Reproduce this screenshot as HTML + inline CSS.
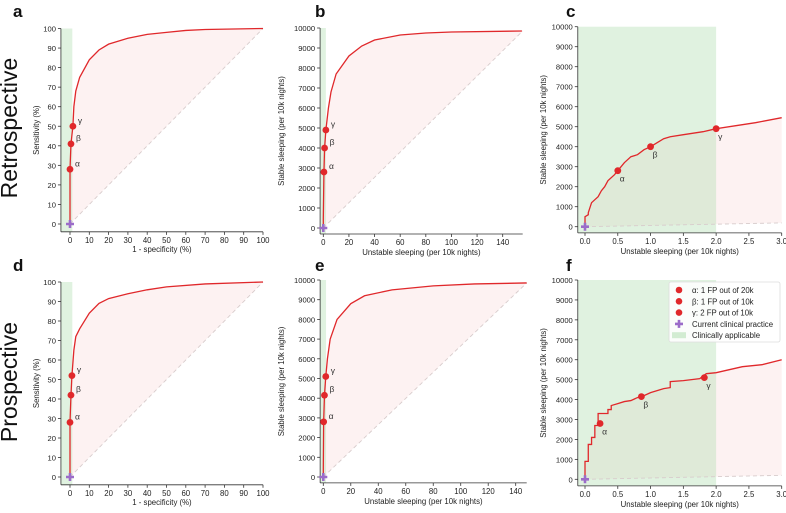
<!DOCTYPE html>
<html><head><meta charset="utf-8"><style>
html,body{margin:0;padding:0;background:#fff;}
svg{display:block;font-family:"Liberation Sans",sans-serif;}
</style></head><body>
<svg id="fig" width="786" height="513" viewBox="0 0 786 513" xmlns="http://www.w3.org/2000/svg">
<text x="11" y="128" font-size="23" transform="rotate(-90 11 128)" text-anchor="middle" dominant-baseline="middle" fill="#111">Retrospective</text>
<text x="11" y="382" font-size="23" transform="rotate(-90 11 382)" text-anchor="middle" dominant-baseline="middle" fill="#111">Prospective</text>
</svg>
<script>
// ---- data ----
const rocRetroX = [0,0,0.5,1.5,2,3,5,10,15,20,30,40,50,60,70,100];
const rocRetroY = [0,28,41,50,60,68,75,84,89,92,95,97,98,99,99.5,100];
const rocProX = [0,0,0.5,1,2,3,5,10,15,20,30,40,50,70,100];
const rocProY = [0,28,42,52,65,72,76,84,89,91.5,94,96,97.5,99,100];
const sleepRetroX = [0,0,0.5,1,2,4,6,10,20,30,40,60,80,100,155];
const sleepRetroY = [0,500,2800,4000,4900,6000,6800,7700,8600,9100,9400,9650,9750,9800,9850];
const sleepProX = [0,0,0.25,0.85,1.8,3,5,10,20,30,50,80,110,148];
const sleepProY = [0,500,2800,4150,5100,6000,7000,8000,8800,9200,9500,9700,9800,9850];
const zoomRetroX = [0,0,0.05,0.05,0.08,0.1,0.15,0.2,0.25,0.3,0.35,0.45,0.5,0.55,0.6,0.65,0.7,0.8,0.9,1.0,1.1,1.2,1.3,1.5,1.8,2.0,2.3,2.6,3.0];
const zoomRetroY = [0,500,600,700,1000,1200,1350,1500,1800,2000,2300,2600,2800,3000,3200,3350,3500,3600,3850,4000,4200,4400,4500,4600,4750,4900,5050,5200,5450];
const zoomProX = [0,0,0.05,0.05,0.1,0.1,0.15,0.15,0.2,0.2,0.35,0.35,0.4,0.4,0.5,0.6,0.7,0.8,0.9,1.0,1.1,1.2,1.3,1.3,1.5,1.75,1.85,2.0,2.2,2.4,2.7,3.0];
const zoomProY = [0,900,900,1750,1750,2100,2100,2700,2700,3300,3300,3500,3500,3700,3800,3900,3950,4100,4200,4350,4450,4550,4600,4900,4950,5050,5300,5350,5500,5650,5750,6000];
const markRocRetro = [[0,28],[0.5,41],[1.5,50]];
const markRocPro = [[0,28],[0.5,42],[1,52]];
const markSleepRetro = [[0.5,2800],[1,4000],[2,4900]];
const markSleepPro = [[0.25,2800],[0.85,4150],[1.8,5100]];
const markZoomRetro = [[0.5,2800],[1,4000],[2,4900]];
const markZoomPro = [[0.23,2800],[0.86,4150],[1.82,5100]];
const ticksPct = [0,10,20,30,40,50,60,70,80,90,100];
const ticksSleepY = [0,1000,2000,3000,4000,5000,6000,7000,8000,9000,10000];
const ticksSleepX = [0,20,40,60,80,100,120,140];
const ticksZoomX = [0,0.5,1.0,1.5,2.0,2.5,3.0];
const greekLabels = ['α','β','γ'];

const NS='http://www.w3.org/2000/svg';
const svg=document.getElementById('fig');
function mk(tag,attrs,parent){const e=document.createElementNS(NS,tag);for(const k in attrs)e.setAttribute(k,attrs[k]);(parent||svg).appendChild(e);return e;}

function panel(cfg){
  const g=mk('g',{});
  
  
  const sx=v=>cfg.px0+(v-0)*(cfg.px1-cfg.px0)/cfg.xt;
  const sy=v=>cfg.py0+(v-0)*(cfg.py1-cfg.py0)/cfg.yt;
  const left=sx(cfg.xmin), right=sx(cfg.xmax), bottom=sy(cfg.ymin), top=sy(cfg.yt);
  const xs=cfg.xs, ys=cfg.ys, n=xs.length;
  const dEnd=cfg.diagEnd;
  let d='M'+sx(xs[0])+','+sy(ys[0]);
  for(let i=1;i<n;i++) d+='L'+sx(xs[i])+','+sy(ys[i]);
  d+='L'+sx(dEnd[0])+','+sy(dEnd[1])+'L'+sx(0)+','+sy(0)+'Z';
  const f=mk('path',{d:d,fill:'#fdf2f2'},g);
  
  
  const gb=mk('rect',{x:left,y:top,width:sx(cfg.green)-left,height:bottom-top,fill:'rgba(170,220,170,0.36)'},g);
  
  
  const dg=mk('line',{x1:sx(0),y1:sy(0),x2:sx(dEnd[0]),y2:sy(dEnd[1]),stroke:'#d8cccc','stroke-width':0.9,'stroke-dasharray':'4,3'},g);
  
  
  let c='M'+sx(xs[0])+','+sy(ys[0]);
  for(let i=1;i<n;i++) c+='L'+sx(xs[i])+','+sy(ys[i]);
  const cv=mk('path',{d:c,fill:'none',stroke:'#e0282b','stroke-width':1.3},g);
  
  
  const sl=mk('line',{x1:left,y1:top,x2:left,y2:bottom,stroke:'#333','stroke-width':0.8},g);
  
  
  const sb=mk('line',{x1:left,y1:bottom,x2:right,y2:bottom,stroke:'#333','stroke-width':0.8},g);
  
  
  cfg.yticks.forEach(t=>{
    mk('line',{x1:left-3,x2:left,y1:sy(t),y2:sy(t),stroke:'#333','stroke-width':0.8},g);
    const tx=mk('text',{x:left-5,y:sy(t)+3,'font-size':7.6,'text-anchor':'end',fill:'#222'},g);
    tx.textContent=t;
    
    
  });
  cfg.xticks.forEach(t=>{
    mk('line',{x1:sx(t),x2:sx(t),y1:bottom,y2:bottom+3,stroke:'#333','stroke-width':0.8},g);
    const tx=mk('text',{x:sx(t),y:bottom+11,'font-size':7.8,'text-anchor':'middle',fill:'#222'},g);
    tx.textContent=cfg.xfmt?t.toFixed(1):t;
    
    
  });
  const xl=mk('text',{x:(left+right)/2,y:bottom+cfg.xlOff,'font-size':7.8,'text-anchor':'middle',fill:'#222'},g);
  xl.textContent=cfg.xlabel;
  
  
  const ylx=cfg.ylx, yly=(top+bottom)/2;
  const yl=mk('text',{x:ylx,y:yly,'font-size':7.8,'text-anchor':'middle',fill:'#222',transform:'rotate(-90 '+ylx+' '+yly+')'},g);
  yl.textContent=cfg.ylabel;
  
  
  cfg.marks.forEach((m,i)=>{
    const ci=mk('circle',{cx:sx(m[0]),cy:sy(m[1]),r:3.4,fill:'#e0282b'},g);
    
    
    const o=cfg.lblOff;
    const tl=mk('text',{x:sx(m[0])+o[0],y:sy(m[1])+o[1],'font-size':8.5,fill:'#333'},g);
    tl.textContent=greekLabels[i];
    
    
  });
  const px=sx(0),py=sy(0);
  const cp=mk('path',{d:`M${px-1.3},${py-4}h2.6v2.7h2.7v2.6h-2.7v2.7h-2.6v-2.7h-2.7v-2.6h2.7z`,fill:'#9b6cc9'},g);
  
  
  const lt=mk('text',{x:cfg.lx,y:cfg.ly,'font-size':17,'font-weight':'bold',fill:'#111'},g);
  lt.textContent=cfg.letter;
  
  
}

panel({letter:'a',xs:rocRetroX,ys:rocRetroY,marks:markRocRetro,px0:70,px1:263,xt:100,xmin:-4.7,xmax:100,py0:224,py1:28.5,yt:100,ymin:-4,green:1.2,diagEnd:[100,100],yticks:ticksPct,xticks:ticksPct,xlabel:'1 - specificity (%)',ylabel:'Sensitivity (%)',ylx:39,xlOff:20,lblOff:[5,-3],lx:13,ly:17});
panel({letter:'d',xs:rocProX,ys:rocProY,marks:markRocPro,px0:70,px1:263,xt:100,xmin:-4.7,xmax:100,py0:477,py1:282,yt:100,ymin:-4,green:1.2,diagEnd:[100,100],yticks:ticksPct,xticks:ticksPct,xlabel:'1 - specificity (%)',ylabel:'Sensitivity (%)',ylx:39,xlOff:20,lblOff:[5,-3],lx:13,ly:271});
panel({letter:'b',xs:sleepRetroX,ys:sleepRetroY,marks:markSleepRetro,px0:323.3,px1:502.7,xt:140,xmin:-2.5,xmax:155.6,py0:228,py1:28,yt:10000,ymin:-300,green:2,diagEnd:[155.6,9850],yticks:ticksSleepY,xticks:ticksSleepX,xlabel:'Unstable sleeping (per 10k nights)',ylabel:'Stable sleeping (per 10k nights)',ylx:284,xlOff:21,lblOff:[5,-3],lx:315,ly:17});
panel({letter:'e',xs:sleepProX,ys:sleepProY,marks:markSleepPro,px0:323.3,px1:515.7,xt:140,xmin:-2.3,xmax:148,py0:477,py1:280,yt:10000,ymin:-300,green:2,diagEnd:[148,9850],yticks:ticksSleepY,xticks:ticksSleepX,xlabel:'Unstable sleeping (per 10k nights)',ylabel:'Stable sleeping (per 10k nights)',ylx:284,xlOff:21,lblOff:[5,-3],lx:315,ly:271});
panel({letter:'c',xs:zoomRetroX,ys:zoomRetroY,marks:markZoomRetro,px0:585,px1:781.7,xt:3,xmin:-0.11,xmax:3,py0:226.7,py1:26.7,yt:10000,ymin:-310,green:2,diagEnd:[3,190],yticks:ticksSleepY,xticks:ticksZoomX,xfmt:true,xlabel:'Unstable sleeping (per 10k nights)',ylabel:'Stable sleeping (per 10k nights)',ylx:546,xlOff:21,lblOff:[2,11],lx:566,ly:17});
panel({letter:'f',xs:zoomProX,ys:zoomProY,marks:markZoomPro,px0:585,px1:781.7,xt:3,xmin:-0.11,xmax:3,py0:479.3,py1:280,yt:10000,ymin:-330,green:2,diagEnd:[3,200],yticks:ticksSleepY,xticks:ticksZoomX,xfmt:true,xlabel:'Unstable sleeping (per 10k nights)',ylabel:'Stable sleeping (per 10k nights)',ylx:546,xlOff:21,lblOff:[2,11],lx:566,ly:271});

const lg=mk('g',{});


mk('rect',{x:669,y:282,width:111,height:60,rx:2,fill:'#fff','fill-opacity':0.85,stroke:'#ddd','stroke-width':0.8},lg);
const legendTexts=['α: 1 FP out of 20k','β: 1 FP out of 10k','γ: 2 FP out of 10k','Current clinical practice','Clinically applicable'];
legendTexts.forEach((t,i)=>{
  const y=290+i*11.3;
  if(i<3){mk('circle',{cx:679,cy:y,r:3.3,fill:'#e0282b'},lg);}
  else if(i===3){mk('path',{d:`M${677.7},${y-4}h2.6v2.7h2.7v2.6h-2.7v2.7h-2.6v-2.7h-2.7v-2.6h2.7z`,fill:'#9b6cc9'},lg);}
  else{mk('rect',{x:672,y:y-3,width:14,height:6,fill:'rgba(170,220,170,0.5)'},lg);}
  const tx=mk('text',{x:692,y:y+3,'font-size':7.8,fill:'#222'},lg);
  tx.textContent=t;
  
  
});
</script>
</body></html>
